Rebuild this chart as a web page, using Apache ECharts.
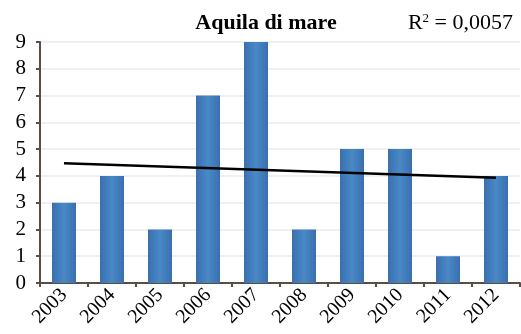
<!DOCTYPE html>
<html>
<head>
<meta charset="UTF-8">
<title>Aquila di mare</title>
<script src="https://cdn.jsdelivr.net/npm/echarts@6/dist/echarts.min.js"></script>
<style>
  html, body { margin: 0; padding: 0; background: #fff; }
  #main { width: 521px; height: 334px; }
</style>
</head>
<body>
<div id="main"></div>
<script>
// dati
var anni = ['2003', '2004', '2005', '2006', '2007', '2008', '2009', '2010', '2011', '2012'];
var valori = [3, 4, 2, 7, 9, 2, 5, 5, 1, 4];
var tendenza = [['2003', 4.47], ['2012', 3.93]]; // linea di tendenza (estremi)
var yTicks = [0, 1, 2, 3, 4, 5, 6, 7, 8, 9];

var chart = echarts.init(document.getElementById('main'));
var serif = '"Liberation Serif", "DejaVu Serif", serif';

chart.setOption({
  animation: false,
  textStyle: { fontFamily: serif },
  title: [{
    text: 'Aquila di mare',
    left: 261, top: 7, textAlign: 'center',
    textStyle: { fontFamily: serif, fontSize: 22, fontWeight: 'bold', color: '#000' }
  }, {
    text: 'R{sup|2} = 0,0057',
    right: 3, top: 7,
    textStyle: {
      fontFamily: serif, fontSize: 22, fontWeight: 'normal', color: '#000',
      rich: { sup: { fontFamily: serif, fontSize: 13, verticalAlign: 'top', padding: [0, 0, 8, 0] } }
    }
  }],
  grid: { left: 40, right: 1, top: 42, bottom: 51 },
  xAxis: {
    type: 'category',
    data: anni,
    axisLine: { lineStyle: { color: '#5a4d47', width: 2 } },
    axisTick: { show: true, length: 4, lineStyle: { color: '#5a4d47', width: 2 } },
    axisLabel: { rotate: 45, fontSize: 20, color: '#000', fontFamily: serif, margin: 9 }
  },
  yAxis: {
    type: 'value',
    min: yTicks[0], max: yTicks[yTicks.length - 1], interval: 1,
    axisLine: { show: true, lineStyle: { color: '#5a4d47', width: 2 } },
    axisTick: { show: true, length: 4, lineStyle: { color: '#5a4d47', width: 2 } },
    axisLabel: { fontSize: 21, color: '#000', fontFamily: serif, margin: 14 },
    splitLine: { lineStyle: { color: '#f0f0f0', width: 2 } }
  },
  series: [{
    type: 'bar',
    data: valori,
    barWidth: '50%',
    itemStyle: {
      color: {
        type: 'linear', x: 0, y: 0, x2: 1, y2: 0,
        colorStops: [
          { offset: 0, color: '#3a6fae' },
          { offset: 0.5, color: '#4a89c8' },
          { offset: 1, color: '#3a6fae' }
        ]
      }
    }
  }, {
    type: 'line',
    data: tendenza,
    symbol: 'none',
    lineStyle: { color: '#000', width: 2.5 },
    z: 5
  }]
});
</script>
</body>
</html>
